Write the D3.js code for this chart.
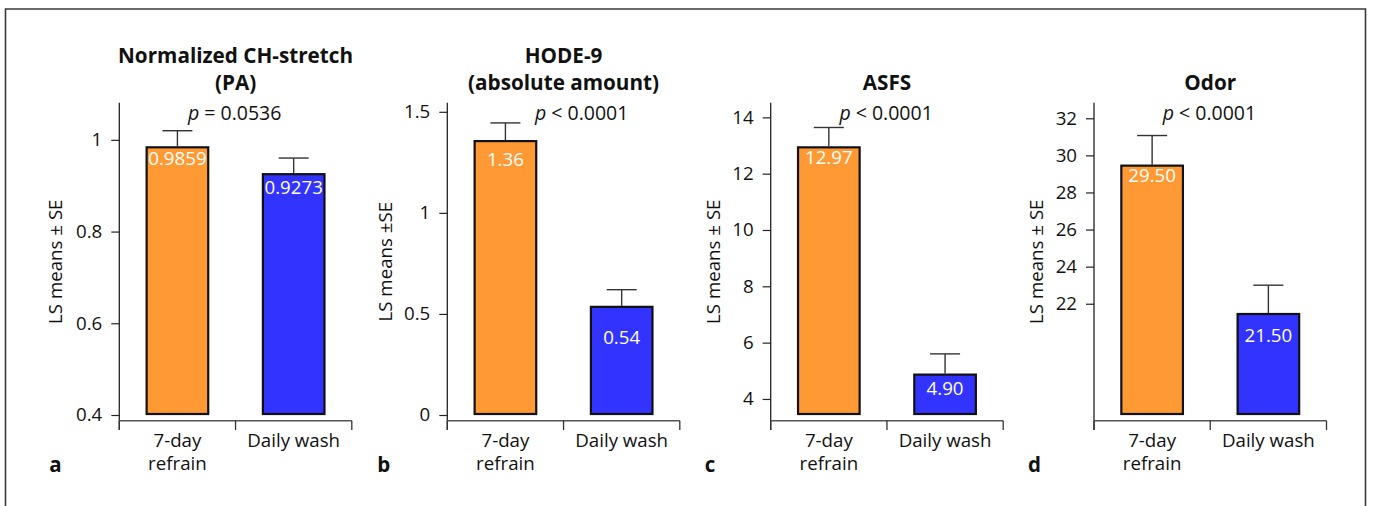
<!DOCTYPE html>
<html>
<head>
<meta charset="utf-8">
<script src="https://cdn.jsdelivr.net/npm/d3@7"></script>
<style>
  html, body { margin: 0; padding: 0; background: #fff; }
  svg { display: block; font-family: "Open Sans", "Noto Sans", sans-serif; }
</style>
</head>
<body>
<svg id="chart" width="1373" height="506"></svg>
<script>
// ---- data ----
const panelLetters = ["a", "b", "c", "d"];
const panelTitles = [["Normalized CH-stretch", "(PA)"], ["HODE-9", "(absolute amount)"], ["ASFS"], ["Odor"]];
const categories = ["7-day refrain", "Daily wash"];
const categoryLines = [["7-day", "refrain"], ["Daily wash"]];
const refrainMeans = [0.9859, 1.36, 12.97, 29.50];
const washMeans = [0.9273, 0.54, 4.90, 21.50];
const refrainSE = [0.034, 0.085, 0.67, 1.57];
const washSE = [0.033, 0.08, 0.70, 1.50];
const refrainLabels = ["0.9859", "1.36", "12.97", "29.50"];
const washLabels = ["0.9273", "0.54", "4.90", "21.50"];
const yTickValues = [[0.4, 0.6, 0.8, 1], [0, 0.5, 1, 1.5], [4, 6, 8, 10, 12, 14], [22, 24, 26, 28, 30, 32]];
const yTickLabels = [["0.4", "0.6", "0.8", "1"], ["0", "0.5", "1", "1.5"], ["4", "6", "8", "10", "12", "14"], ["22", "24", "26", "28", "30", "32"]];
const yDomains = [[0.4, 1.081], [0, 1.545], [3.43, 14.52], [16, 32.84]];
const pTexts = ["= 0.0536", "< 0.0001", "< 0.0001", "< 0.0001"];
const yAxisTitles = ["LS means \u00b1 SE", "LS means \u00b1SE", "LS means \u00b1 SE", "LS means \u00b1 SE"];

// ---- layout (styling, not data) ----
const axisX = [119.3, 447.3, 770.7, 1094];
const plotW = 232.5;
const plotTop = 102.7, plotBottom = 415, xAxisY = 420.7, tickBottom = 430;
const pOffset = [68.7, 87.7, 68.7, 68.7];
const letterOffset = [70, 70, 66, 66];
const yTitleOffset = [64, 62.3, 57.4, 58];
const valueLabelDy = [[19, 20.7], [25.7, 38], [18, 21.7], [17.7, 29]];
const colors = ["#FF9933", "#3333FF"];
const FS = 18.7;

const svg = d3.select("#chart");

// outer frame
svg.append("path")
  .attr("d", "M5.5,510 V9 H1365.5 V510")
  .attr("fill", "none").attr("stroke", "#3a3a3a").attr("stroke-width", 1.6);

panelLetters.forEach((letter, i) => {
  const x0 = axisX[i];
  const g = svg.append("g");
  const y = d3.scaleLinear().domain(yDomains[i]).range([plotBottom, plotTop]);
  const x = d3.scaleBand().domain(categories).range([x0, x0 + plotW])
    .paddingInner(0.453).paddingOuter(0.2265);

  // y axis
  const yAxis = d3.axisLeft(y).tickValues(yTickValues[i])
    .tickFormat((d, k) => yTickLabels[i][k]).tickSize(8).tickPadding(9);
  const ya = g.append("g").attr("transform", `translate(${x0},0)`).call(yAxis);
  ya.select(".domain").remove();
  ya.selectAll(".tick line").attr("stroke", "#222").attr("stroke-width", 1.2);
  ya.selectAll(".tick text").attr("font-size", FS).attr("fill", "#111")
    .attr("font-family", "'Open Sans', 'Noto Sans', sans-serif");
  g.append("line").attr("x1", x0).attr("x2", x0).attr("y1", plotTop).attr("y2", tickBottom)
    .attr("stroke", "#222").attr("stroke-width", 1.3);

  // x axis
  const [rx0, rx1] = x.range();
  g.append("line").attr("x1", rx0).attr("x2", rx1).attr("y1", xAxisY).attr("y2", xAxisY)
    .attr("stroke", "#555").attr("stroke-width", 1.6);
  const boundaries = [rx0, rx0 + x.step(), rx1];
  g.selectAll(".xtick").data(boundaries).enter().append("line")
    .attr("x1", d => d).attr("x2", d => d).attr("y1", xAxisY).attr("y2", tickBottom)
    .attr("stroke", "#333").attr("stroke-width", 1.3);

  categories.forEach((c, k) => {
    const t = g.append("text").attr("x", x(c) + x.bandwidth() / 2).attr("y", xAxisY + 26)
      .attr("text-anchor", "middle").attr("font-size", FS).attr("fill", "#111");
    categoryLines[k].forEach((ln, j) => {
      t.append("tspan").attr("x", x(c) + x.bandwidth() / 2).attr("dy", j === 0 ? 0 : 23.5).text(ln);
    });
  });

  // bars
  const means = [refrainMeans[i], washMeans[i]];
  const ses = [refrainSE[i], washSE[i]];
  const labels = [refrainLabels[i], washLabels[i]];
  categories.forEach((c, k) => {
    const cx = x(c) + x.bandwidth() / 2;
    // error bar
    g.append("line").attr("x1", cx).attr("x2", cx)
      .attr("y1", y(means[k])).attr("y2", y(means[k] + ses[k]))
      .attr("stroke", "#333").attr("stroke-width", 1.4);
    g.append("line").attr("x1", cx - 15).attr("x2", cx + 15)
      .attr("y1", y(means[k] + ses[k])).attr("y2", y(means[k] + ses[k]))
      .attr("stroke", "#333").attr("stroke-width", 1.4);
    g.append("rect")
      .attr("x", x(c) + 1).attr("width", x.bandwidth() - 2)
      .attr("y", y(means[k]) + 1).attr("height", y(yDomains[i][0]) - y(means[k]) - 2)
      .attr("fill", colors[k]).attr("stroke", "#111").attr("stroke-width", 2.2);
    g.append("text").attr("x", cx).attr("y", y(means[k]) + valueLabelDy[i][k])
      .attr("text-anchor", "middle").attr("font-size", FS).attr("fill", "#fff").text(labels[k]);
  });

  // title
  const tl = panelTitles[i];
  const cxAxis = x0 + plotW / 2;
  tl.forEach((line, j) => {
    const yy = tl.length === 2 ? 63.3 + j * 26.3 : 89.6;
    g.append("text").attr("x", cxAxis).attr("y", yy).attr("text-anchor", "middle")
      .attr("font-size", 20.7).attr("font-weight", "bold").attr("fill", "#111").text(line);
  });

  // p value
  const pt = g.append("text").attr("x", x0 + pOffset[i]).attr("y", 120)
    .attr("font-size", 19.5).attr("fill", "#111");
  pt.append("tspan").attr("font-style", "italic").text("p");
  pt.append("tspan").text(" " + pTexts[i]);

  // y axis title
  g.append("text").attr("transform", `translate(${x0 - yTitleOffset[i]},261.7) rotate(-90)`)
    .attr("text-anchor", "middle").attr("dy", "0.35em").attr("font-size", FS).attr("fill", "#111")
    .text(yAxisTitles[i]);

  // panel letter
  g.append("text").attr("x", x0 - letterOffset[i]).attr("y", 471.5)
    .attr("font-size", 20.5).attr("font-weight", "bold").attr("fill", "#111").text(letter);
});
</script>
</body>
</html>
